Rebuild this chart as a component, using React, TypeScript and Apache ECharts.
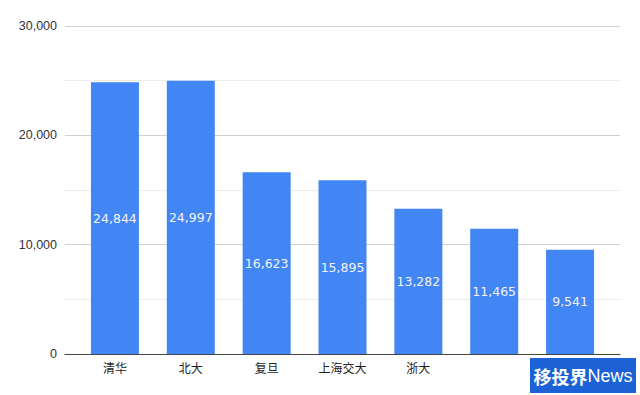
import React, { useEffect, useRef } from "react";
import * as echarts from "echarts";

const categories = ["清华", "北大", "复旦", "上海交大", "浙大", "", ""];
const values = [24844, 24997, 16623, 15895, 13282, 11465, 9541];
const yTicks = { min: 0, max: 30000, interval: 10000 };
const logoCn = "移投界";
const logoEn = "News";

export default function App() {
  const ref = useRef<HTMLDivElement>(null);
  useEffect(() => {
    const chart = echarts.init(ref.current!, null, { renderer: "svg" });
    const font = "Arial, 'Liberation Sans', 'Noto Sans CJK SC', sans-serif";
    chart.setOption({
      animation: false,
      backgroundColor: "#ffffff",
      grid: [
        { left: 65, right: 20, top: 26, bottom: 41 },
        { left: 77, right: 32, top: 26, bottom: 41 },
      ],
      xAxis: [
        {
          type: "value",
          gridIndex: 0,
          min: 0,
          max: 1,
          axisLabel: { show: false },
          axisTick: { show: false },
          splitLine: { show: false },
          axisLine: { show: true, onZero: false, lineStyle: { color: "#444", width: 1.2 } },
          z: 5,
        },
        {
          type: "category",
          gridIndex: 1,
          data: categories,
          axisLine: { show: false },
          axisTick: { show: false },
          axisLabel: { color: "#222", fontSize: 12, fontFamily: font, margin: 9, interval: 0 },
        },
      ],
      yAxis: [
        {
          type: "value",
          gridIndex: 0,
          min: yTicks.min,
          max: yTicks.max,
          interval: yTicks.interval,
          axisLine: { show: false },
          axisTick: { show: false },
          axisLabel: {
            color: "#333",
            fontSize: 12.5,
            fontFamily: font,
            margin: 8,
            formatter: (v: number) => v.toLocaleString("en-US"),
          },
          splitLine: { show: true, lineStyle: { color: "#d0d0d0", width: 1 } },
          minorTick: { show: false, splitNumber: 2 },
          minorSplitLine: { show: true, lineStyle: { color: "#ececec", width: 1 } },
        },
        {
          type: "value",
          gridIndex: 1,
          min: yTicks.min,
          max: yTicks.max,
          interval: yTicks.interval,
          show: false,
          splitLine: { show: false },
        },
      ],
      series: [
        {
          type: "bar",
          xAxisIndex: 1,
          yAxisIndex: 1,
          data: values,
          barWidth: 48,
          itemStyle: { color: "#4285f4" },
          label: {
            show: true,
            position: "inside",
            color: "#f4f4f4",
            fontSize: 12.5,
            fontFamily: "'DejaVu Sans', Verdana, sans-serif",
            formatter: (p: any) => Number(p.value).toLocaleString("en-US"),
          },
        },
      ],
      graphic: [
        {
          type: "rect",
          shape: { x: 530, y: 358, width: 106, height: 35 },
          style: { fill: "#1c62d6" },
          z: 100,
        },
        {
          type: "text",
          x: 583,
          y: 375.5,
          z: 101,
          style: {
            text: `{a|${logoCn}}{b|${logoEn}}`,
            align: "center",
            verticalAlign: "middle",
            rich: {
              a: { fill: "#ffffff", fontSize: 18, fontWeight: "bold", fontFamily: "'Noto Sans CJK SC', sans-serif" },
              b: { fill: "#ffffff", fontSize: 18, fontFamily: "Arial, 'Liberation Sans', sans-serif" },
            },
          },
        },
      ],
    });
    return () => chart.dispose();
  }, []);
  return (
    <div
      ref={ref}
      style={{ position: "fixed", left: 0, top: 0, width: 640, height: 395 }}
    />
  );
}
